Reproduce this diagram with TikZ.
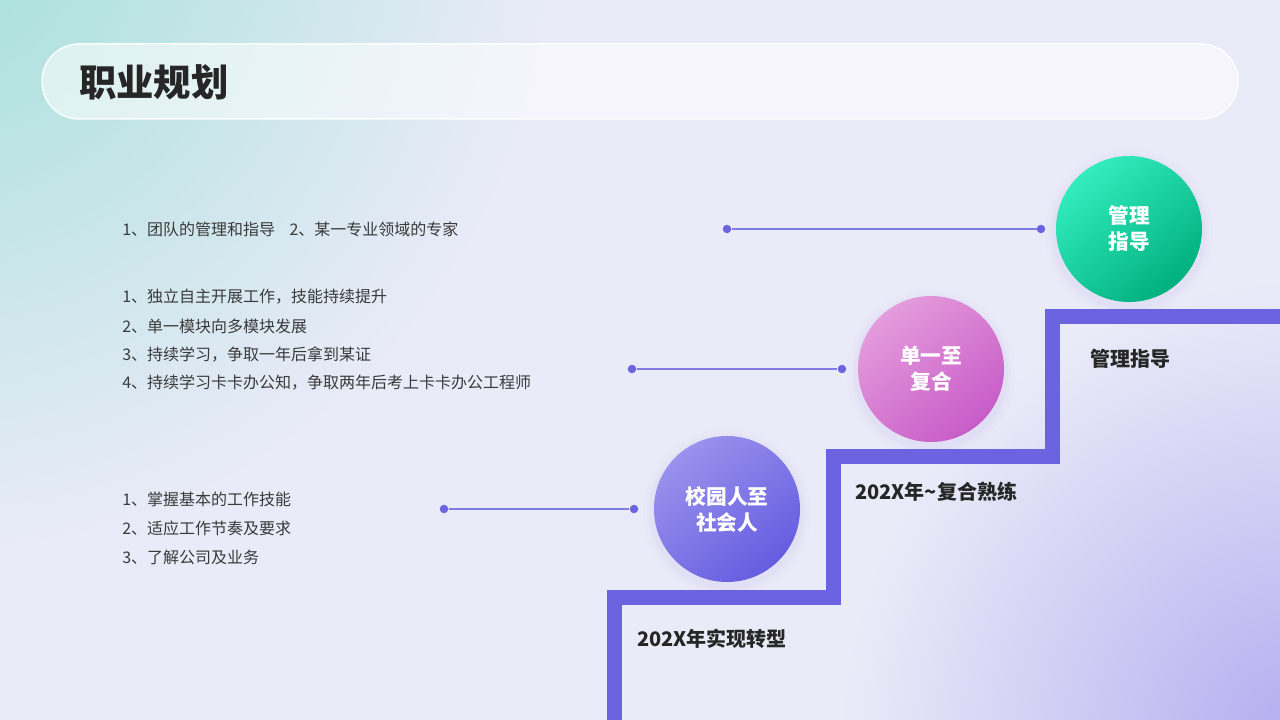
\documentclass[tikz,border=0pt]{standalone}
\usepackage{fontspec}
\setmainfont{Noto Sans CJK SC}
\definecolor{basebg}{HTML}{EAEBF8}
\definecolor{tealbg}{HTML}{A4E0DA}
\definecolor{purpbg}{HTML}{B4ACF0}
\definecolor{linec}{HTML}{6C63E0}
\definecolor{stairc}{HTML}{6C63E0}
\definecolor{txtc}{HTML}{3A3A3A}
\definecolor{lblc}{HTML}{262626}
\definecolor{greenA}{HTML}{34EDBE}
\definecolor{greenB}{HTML}{00B07E}
\definecolor{pinkA}{HTML}{E49CDC}
\definecolor{pinkB}{HTML}{C85CC8}
\definecolor{purA}{HTML}{9A92EC}
\definecolor{purB}{HTML}{655DE0}
\begin{document}
\begin{tikzpicture}[x=0.75pt,y=-0.75pt,
  dotn/.style={circle,fill=linec,inner sep=0pt,minimum size={8.5*0.75pt}},
  conn/.style={draw=linec!85,line width={2*0.75pt}},
  bubble/.style={circle,minimum size={146*0.75pt},inner sep=0pt,align=center,
    text=white,font=\bfseries\fontsize{15.5}{19.5}\selectfont},
  itemtxt/.style={anchor=west,inner sep=0pt,text=txtc,font=\fontsize{12}{14}\selectfont},
  steplbl/.style={anchor=west,inner sep=0pt,text=lblc,font=\bfseries\fontsize{15}{18}\selectfont}]
\useasboundingbox (0,0) rectangle (1280,720);
\begin{scope}
\clip (0,0) rectangle (1280,720);
\fill[basebg] (0,0) rectangle (1280,720);
\shade[inner color=tealbg,outer color=basebg] (-60,-60) circle (620);
\shade[inner color=purpbg,outer color=basebg] (1300,740) circle (460);
% title bar
\fill[white,opacity=0.55,rounded corners={37*0.75pt}] (42,44) rectangle (1238,119);
\draw[white,opacity=0.9,line width={1.5*0.75pt},rounded corners={37*0.75pt}] (42,44) rectangle (1238,119);
% staircase
\draw[stairc,line width={15*0.75pt},line join=miter]
  (614,740) -- (614,597) -- (833,597) -- (833,456) -- (1052,456) -- (1052,316) -- (1300,316);
% shadows
\foreach \cx/\cy in {1129/229,931/369,727/509}{
  \foreach \r/\o in {84/0.015,80/0.02,77/0.03}{
    \fill[linec,opacity=\o] (\cx,\cy+4) circle ({\r*0.75pt});
  }
}
\end{scope}
\node[anchor=west,inner sep=0pt,text=lblc,font=\bfseries\fontsize{28}{32}\selectfont] (title) at (79,82) {职业规划};
% bubbles
\shade[top color=greenA,bottom color=greenB,shading angle=40] (1129,229) circle ({73*0.75pt});
\node[bubble] (b3) at (1129,229) {管理\\指导};
\shade[top color=pinkA,bottom color=pinkB,shading angle=40] (931,369) circle ({73*0.75pt});
\node[bubble] (b2) at (931,369) {单一至\\复合};
\shade[top color=purA,bottom color=purB,shading angle=40] (727,509) circle ({73*0.75pt});
\node[bubble] (b1) at (727,509) {校园人至\\社会人};
% connectors
\node[dotn] (d3a) at (727,229) {};
\node[dotn] (d3b) at (1041,229) {};
\node[dotn] (d2a) at (632,369) {};
\node[dotn] (d2b) at (842,369) {};
\node[dotn] (d1a) at (444,509) {};
\node[dotn] (d1b) at (634,509) {};
\draw[conn] (d3a) -- (d3b);
\draw[conn] (d2a) -- (d2b);
\draw[conn] (d1a) -- (d1b);
% step labels
\node[steplbl] (s3) at (1090,359) {管理指导};
\node[steplbl] (s2) at (855,492) {202X年\textasciitilde 复合熟练};
\node[steplbl] (s1) at (637,639) {202X年实现转型};
% items
\node[itemtxt] (t3) at (122,229) {1、团队的管理和指导\hspace{0.9em}2、某一专业领域的专家};
\node[itemtxt] (t2a) at (122,297) {1、独立自主开展工作，技能持续提升};
\node[itemtxt] (t2b) at (122,326) {2、单一模块向多模块发展};
\node[itemtxt] (t2c) at (122,354) {3、持续学习，争取一年后拿到某证};
\node[itemtxt] (t2d) at (122,383) {4、持续学习卡卡办公知，争取两年后考上卡卡办公工程师};
\node[itemtxt] (t1a) at (122,499) {1、掌握基本的工作技能};
\node[itemtxt] (t1b) at (122,528) {2、适应工作节奏及要求};
\node[itemtxt] (t1c) at (122,557) {3、了解公司及业务};
\end{tikzpicture}
\end{document}
